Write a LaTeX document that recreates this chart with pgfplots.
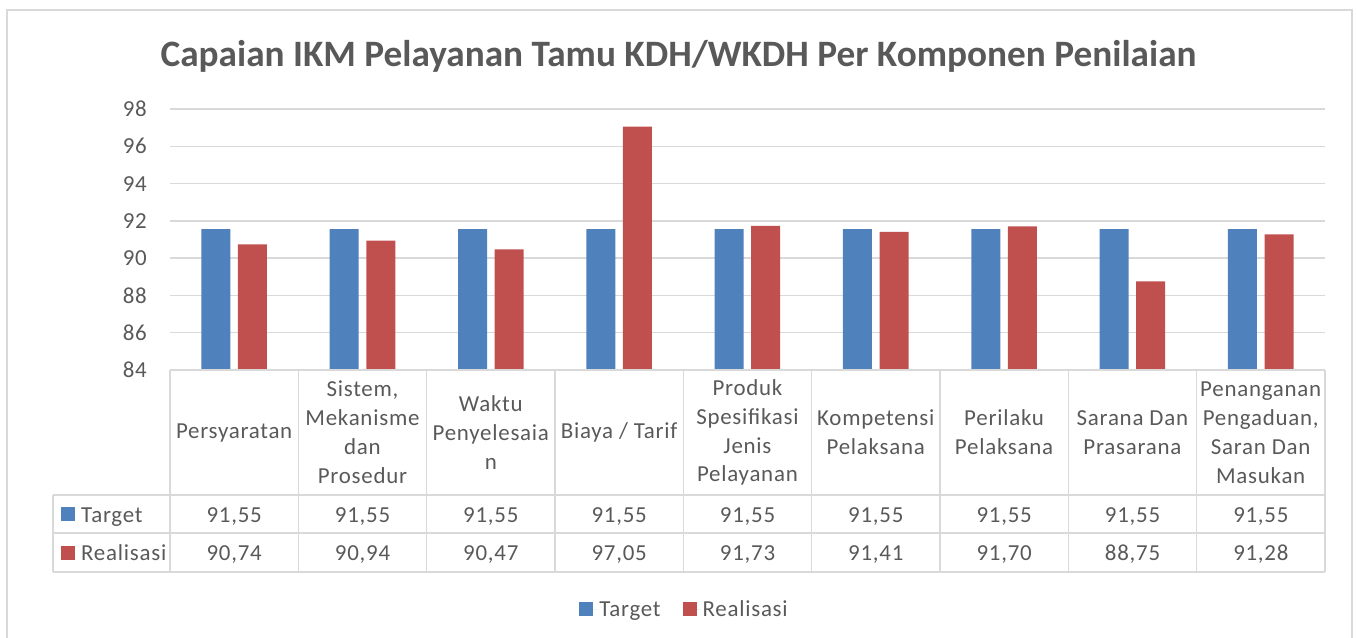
\documentclass[border=0pt]{standalone}
\usepackage{fontspec}
\setmainfont{Carlito}[LetterSpace=3.3]
\newfontfamily\titlefont{Carlito}
\usepackage{pgfplots}
\pgfplotsset{compat=1.18}
\definecolor{tgt}{HTML}{4F81BD}
\definecolor{rea}{HTML}{C0504D}
\definecolor{txt}{HTML}{595959}
\definecolor{grd}{HTML}{D9D9D9}
\begin{document}
\begin{tikzpicture}[x=1bp,y=1bp]
\useasboundingbox (-170,370) rectangle (1187,-268);
\draw[grd, line width=1.5bp] (-163,-290) -- (-163,360) -- (1182,360) -- (1182,-290);
\begin{axis}[
  at={(0,0)}, anchor=south west,
  scale only axis, width=1155bp, height=261bp,
  xmin=-0.5, xmax=8.5, ymin=84, ymax=98,
  ytick={84,86,...,98}, xtick={0,...,8},
  xticklabels={Persyaratan,
    {Sistem,\\Mekanisme\\dan\\Prosedur},
    {Waktu\\Penyelesaia\\n},
    Biaya / Tarif,
    {Produk\\Spesifikasi\\Jenis\\Pelayanan},
    {Kompetensi\\Pelaksana},
    {Perilaku\\Pelaksana},
    {Sarana Dan\\Prasarana},
    {Penanganan\\Pengaduan,\\Saran Dan\\Masukan}},
  ymajorgrids, grid style={grd, line width=1.3bp},
  axis line style={draw=none},
  major tick length=0pt,
  tick label style={font=\fontsize{23}{29}\selectfont, text=txt},
  /pgf/number format/assume math mode=true,
  yticklabel style={inner sep=0pt, xshift=-23bp},
  xticklabel style={anchor=center, align=center, yshift=-62.5bp},
  legend style={at={(0.4455,-0.918)}, anchor=center, draw=none, fill=none,
    legend columns=2, font=\fontsize{23}{26}\selectfont, text=txt,
    /tikz/every even column/.append style={column sep=20bp}},
  legend image code/.code={\fill[#1] (0bp,-6bp) rectangle (14bp,8bp); \path (0bp,0bp) -- (18bp,0bp);},
]
\addplot[ybar, fill=tgt, draw=none, bar width=0.226, bar shift=-0.1425] coordinates {
  (0,91.55) (1,91.55) (2,91.55) (3,91.55) (4,91.55) (5,91.55) (6,91.55) (7,91.55) (8,91.55)};
\addlegendentry{Target}
\addplot[ybar, fill=rea, draw=none, bar width=0.226, bar shift=0.1425] coordinates {
  (0,90.74) (1,90.94) (2,90.47) (3,97.05) (4,91.73) (5,91.41) (6,91.70) (7,88.75) (8,91.28)};
\addlegendentry{Realisasi}
\end{axis}
% data table grid
\begin{scope}[grd, line width=1.5bp]
\draw (0,0) -- (1155,0);
\draw (-117,-125) -- (1155,-125);
\draw (-117,-163) -- (1155,-163);
\draw (-117,-202) -- (1155,-202);
\draw (-117,-125) -- (-117,-202);
\foreach \k in {0,...,9} { \draw (\k*128.3333,0) -- (\k*128.3333,-202); }
\end{scope}
\fill[tgt] (-109,-151) rectangle (-95,-137);
\fill[rea] (-109,-190) rectangle (-95,-176);
\node[anchor=base west, inner sep=0pt, font=\fontsize{23}{26}\selectfont, text=txt] at (-89,-152) {Target};
\node[anchor=base west, inner sep=0pt, font=\fontsize{23}{26}\selectfont, text=txt] at (-89,-190) {Realisasi};
\foreach \i/\a in {0/{91,55},1/{91,55},2/{91,55},3/{91,55},4/{91,55},5/{91,55},6/{91,55},7/{91,55},8/{91,55}} {
  \node[anchor=base, inner sep=0pt, font=\fontsize{23}{26}\selectfont, text=txt] at ({(\i+0.5)*128.3333},-152) {\a};
}
\foreach \i/\a in {0/{90,74},1/{90,94},2/{90,47},3/{97,05},4/{91,73},5/{91,41},6/{91,70},7/{88,75},8/{91,28}} {
  \node[anchor=base, inner sep=0pt, font=\fontsize{23}{26}\selectfont, text=txt] at ({(\i+0.5)*128.3333},-190) {\a};
}
\node[anchor=base, inner sep=0pt, font=\titlefont\fontsize{37.4}{40}\selectfont\bfseries, text=txt] at (508.5,303) {Capaian IKM Pelayanan Tamu KDH/WKDH Per Komponen Penilaian};
\end{tikzpicture}
\end{document}
